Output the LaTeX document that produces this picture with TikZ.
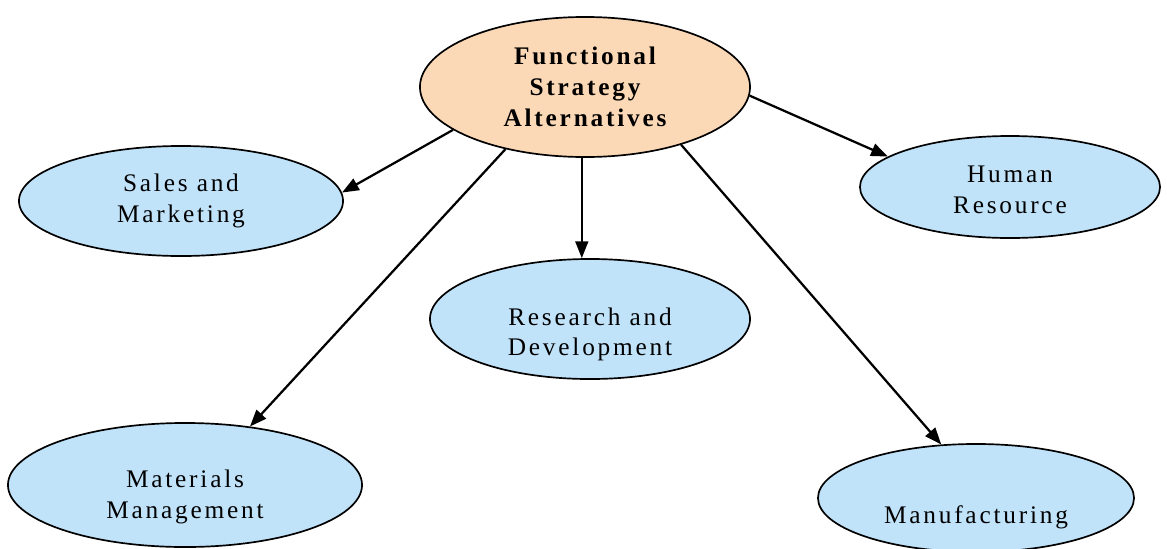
\documentclass[tikz,border=0pt]{standalone}
\usepackage{fontspec}
\setmainfont{Liberation Serif}[LetterSpace=11]
\usepackage{tikz}
\usetikzlibrary{arrows.meta, shapes.geometric}
\definecolor{peach}{RGB}{252,217,182}
\definecolor{skyblue}{RGB}{193,227,250}

\begin{document}
\begin{tikzpicture}[x=0.025cm, y=-0.025cm,
  every node/.style = {font=\fontsize{18}{21.5}\selectfont, align=center},
  oval/.style = {ellipse, draw, line width=1.2pt, inner sep=0pt},
  root/.style = {oval, fill=peach, minimum width=8.25cm, minimum height=3.5cm, font=\fontsize{18}{22}\selectfont\bfseries},
  leaf/.style = {oval, fill=skyblue},
  link/.style = {line width=1.6pt, -{Triangle[length=4.2mm, width=3.2mm]}}
]
\useasboundingbox (0,0) rectangle (1167,548);
\clip (0,0) rectangle (1167,548);

\node[root] (func) at (585,87) {Functional\\Strategy\\Alternatives};
\node[leaf, minimum width=8.1cm, minimum height=2.75cm,
  label={center:Sales and\\Marketing}] (sales) at (181,201) {};
\node[leaf, minimum width=7.5cm, minimum height=2.55cm,
  label={[yshift=-0.07cm]center:Human\\Resource}] (hr) at (1010,187) {};
\node[leaf, minimum width=8cm, minimum height=3cm,
  label={[yshift=-0.38cm]center:Research and\\Development}] (rd) at (590,319) {};
\node[leaf, minimum width=8.85cm, minimum height=3.1cm,
  label={[yshift=-0.3cm]center:Materials\\Management}] (mat) at (185,485) {};
\node[leaf, minimum width=7.9cm, minimum height=2.7cm,
  label={[yshift=-0.48cm]center:Manufacturing}] (manu) at (976,498) {};

\draw[link] ([xshift=-0.08cm]func.south) -- ([xshift=-0.08cm]func.south |- rd.north);
\draw[link] (func.198) -- (sales.3);
\draw[link] (func.218) -- (mat.42);
\draw[link] (func.329) -- (manu.123);
\draw[link] (func.357) -- (hr.166);
\end{tikzpicture}
\end{document}
